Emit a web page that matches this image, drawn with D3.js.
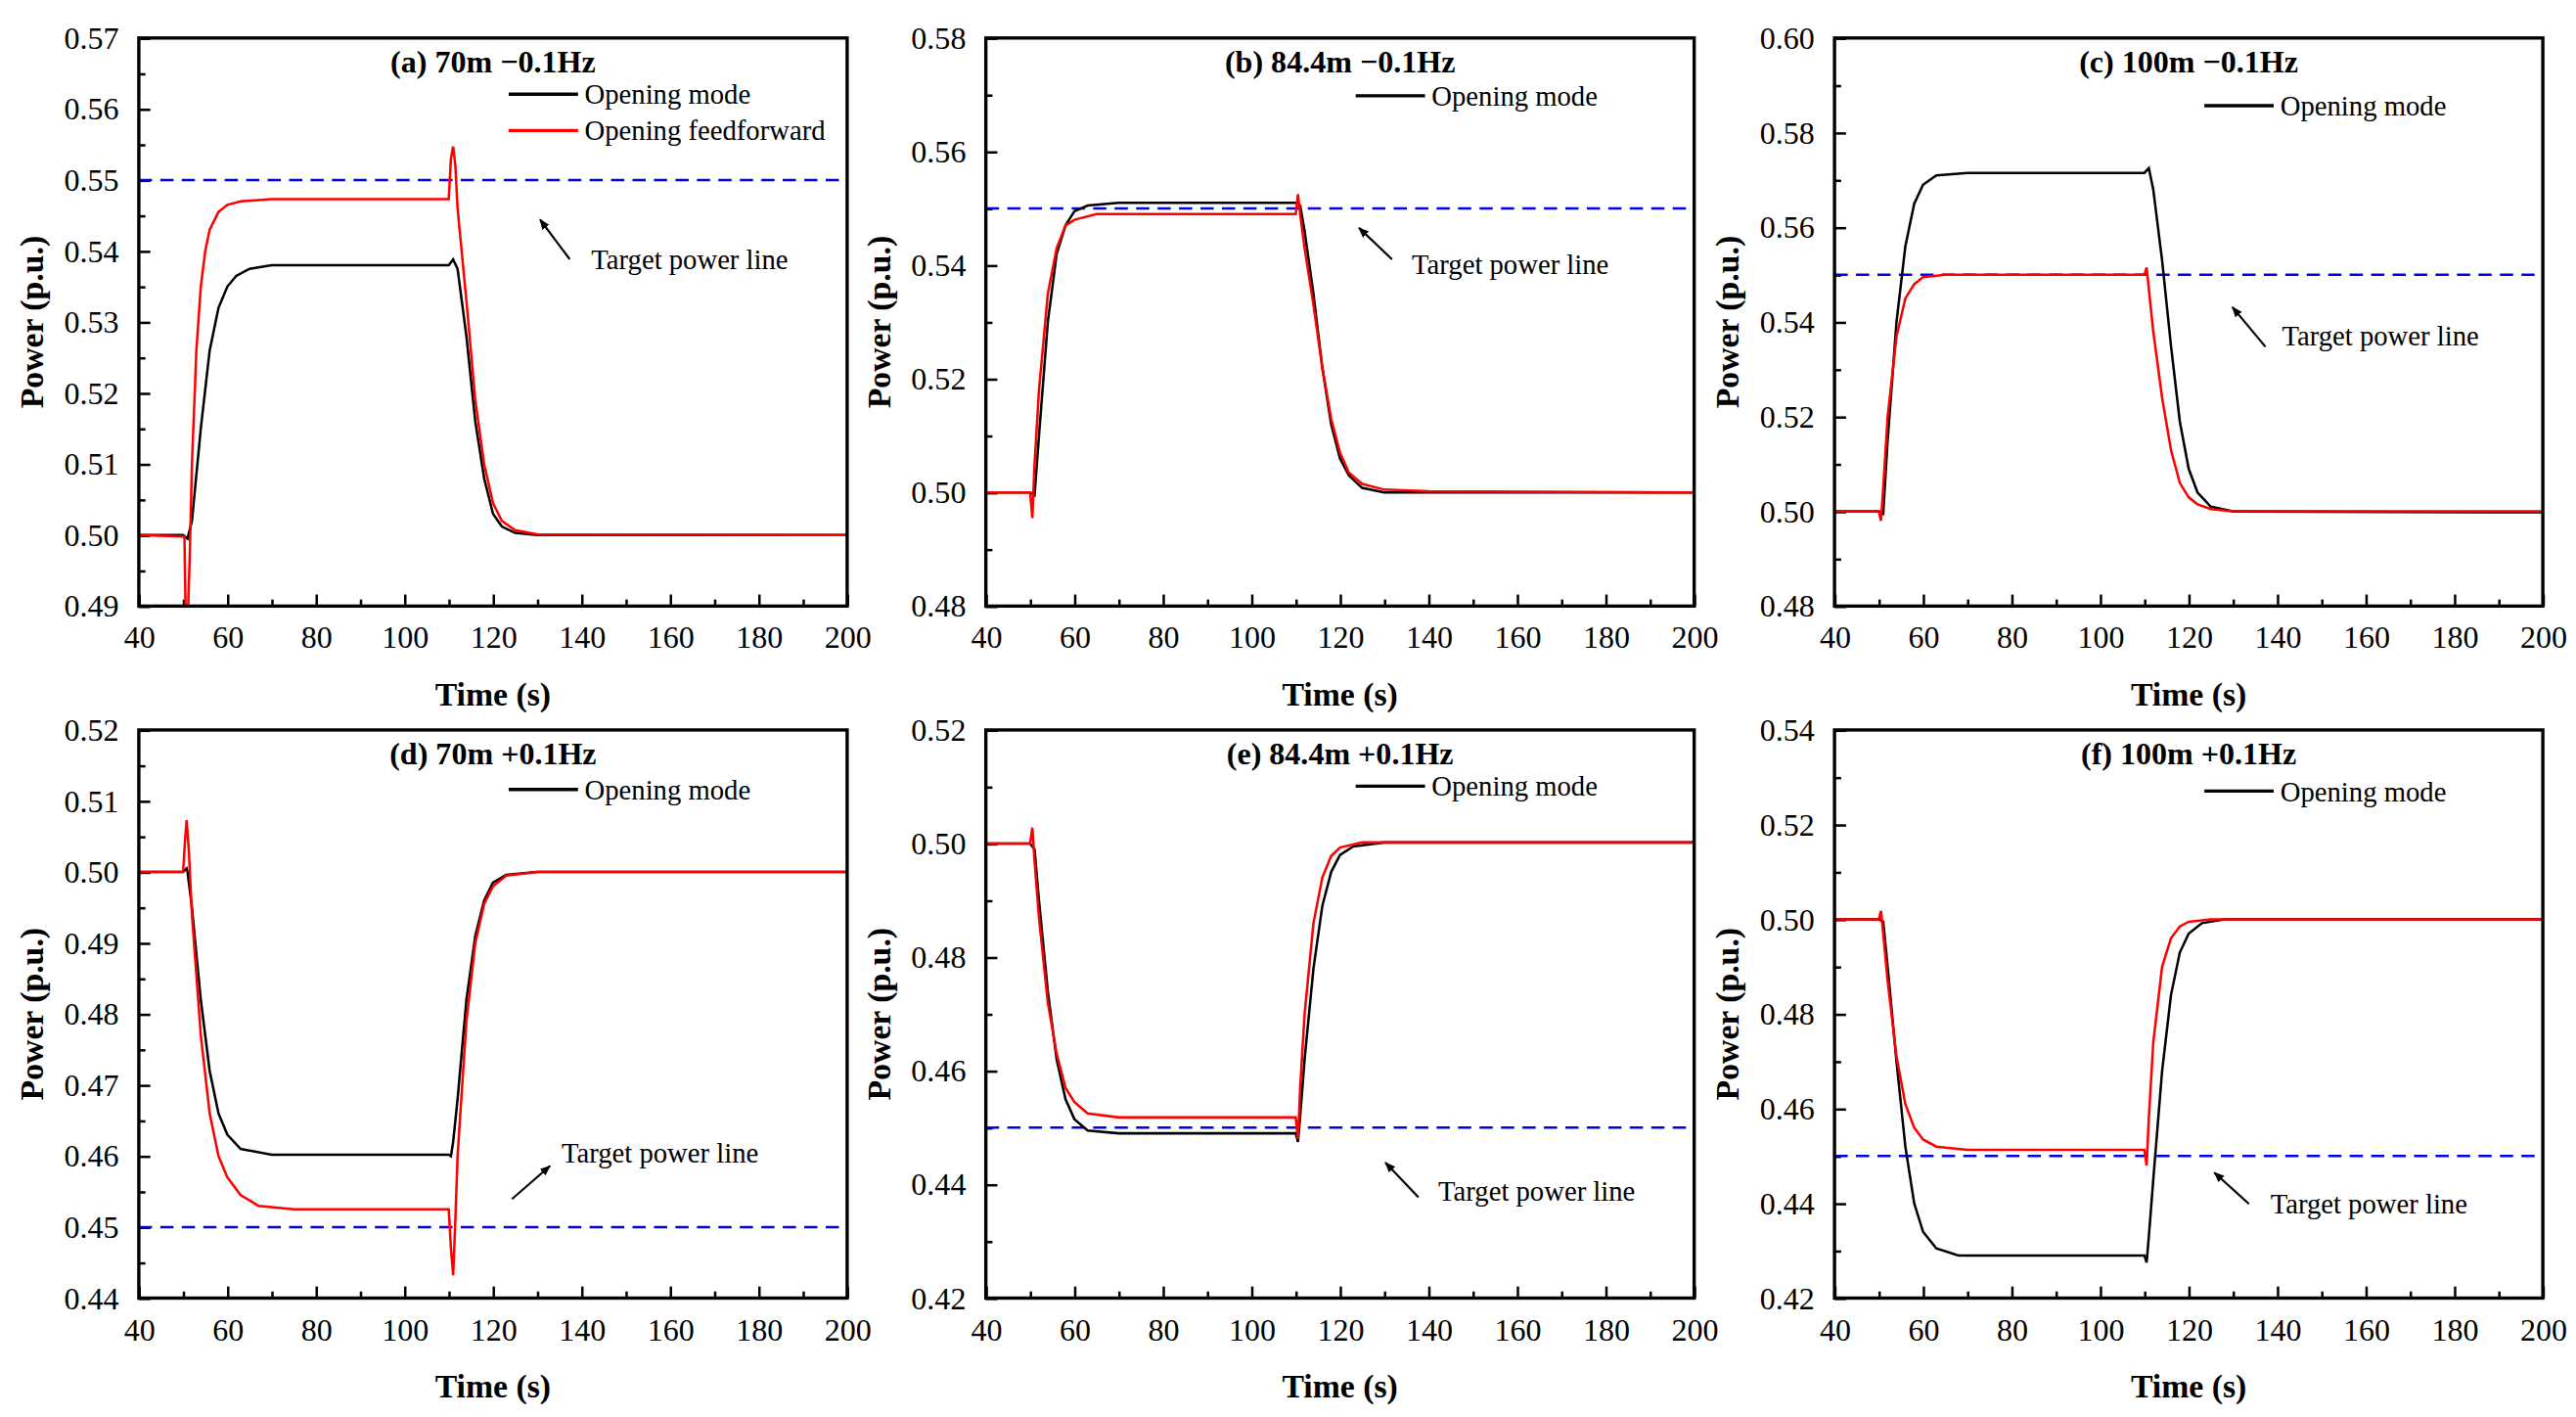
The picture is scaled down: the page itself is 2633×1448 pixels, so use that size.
<!DOCTYPE html><html><head><meta charset="utf-8">
<script src="https://cdn.jsdelivr.net/npm/d3@7"></script>
<style>body{margin:0;background:#fff}text{font-family:"Liberation Serif","Times New Roman",serif}</style>
</head><body><svg id="c" width="2633" height="1448" viewBox="0 0 1560 858"></svg>
<script>
const titles=["(a) 70m \u22120.1Hz","(b) 84.4m \u22120.1Hz","(c) 100m \u22120.1Hz","(d) 70m +0.1Hz","(e) 84.4m +0.1Hz","(f) 100m +0.1Hz"];
const yDomains=[[0.49,0.57],[0.48,0.58],[0.48,0.60],[0.44,0.52],[0.42,0.52],[0.42,0.54]];
const yStep=[0.01,0.02,0.02,0.01,0.02,0.02];
const xTicks=[40,60,80,100,120,140,160,180,200];
const targets=[0.55,0.55,0.55,0.45,0.45,0.45];
const modeA=[[40,.5],[50,.5],[51,.4995],[52,.502],[54,.515],[56,.526],[58,.532],[60,.535],[62,.5365],[65,.5375],[70,.538],[110,.538],[111,.5388],[112,.5375],[114,.528],[116,.516],[118,.508],[120,.503],[122,.5012],[125,.5003],[130,.5],[200,.5]];
const ffA=[[40,.5],[50,.4998],[50.3,.4998],[50.6,.488],[51,.487],[51.5,.497],[52,.51],[53,.526],[54,.535],[55,.54],[56,.543],[58,.5455],[60,.5465],[63,.547],[70,.5473],[110,.5473],[110.5,.553],[111,.5547],[111.5,.552],[112,.546],[114,.533],[116,.519],[118,.51],[120,.5045],[122,.502],[125,.5007],[130,.5001],[200,.5]];
const modeB=[[40,.5],[50,.5],[51,.4995],[52,.51],[54,.53],[56,.542],[58,.547],[60,.5495],[63,.5505],[70,.551],[110,.551],[111,.5505],[112,.546],[114,.535],[116,.522],[118,.512],[120,.506],[122,.503],[125,.5008],[130,.5],[200,.5]];
const ffB=[[40,.5],[50,.5],[50.5,.4955],[51,.505],[52,.518],[54,.535],[56,.543],[58,.547],[60,.548],[65,.549],[110,.549],[110.5,.5525],[111,.549],[112,.543],[114,.533],[116,.522],[118,.513],[120,.507],[122,.5035],[125,.5015],[130,.5005],[140,.5002],[200,.5]];
const modeC=[[40,.5],[50,.5],[51,.4995],[52,.515],[54,.54],[56,.556],[58,.565],[60,.569],[63,.571],[70,.5715],[110,.5715],[111,.5725],[112,.568],[114,.553],[116,.535],[118,.519],[120,.509],[122,.504],[125,.501],[130,.5],[200,.4998]];
const ffC=[[40,.5],[50,.5],[50.5,.498],[51,.505],[52,.52],[54,.537],[56,.545],[58,.548],[60,.5495],[65,.55],[110,.55],[110.5,.5515],[111,.547],[112,.538],[114,.524],[116,.513],[118,.506],[120,.503],[122,.5015],[125,.5005],[130,.5],[200,.5]];
const modeD=[[40,.5],[50,.5],[50.8,.5005],[51,.5],[52,.495],[54,.482],[56,.472],[58,.466],[60,.463],[63,.461],[70,.4602],[110,.4602],[110.5,.46],[111,.462],[112,.468],[114,.482],[116,.491],[118,.496],[120,.4985],[123,.4996],[130,.5],[200,.5]];
const ffD=[[40,.5],[50,.5],[50.5,.505],[50.8,.5073],[51.3,.503],[52,.494],[54,.477],[56,.466],[58,.46],[60,.457],[63,.4545],[67,.453],[75,.4525],[110,.4525],[110.5,.447],[111,.4432],[111.5,.451],[112,.46],[114,.479],[116,.49],[118,.4955],[120,.498],[123,.4995],[130,.5],[200,.5]];
const modeE=[[40,.5],[50,.5],[51,.499],[52,.49],[54,.474],[56,.462],[58,.455],[60,.4515],[63,.4495],[70,.449],[110,.449],[110.5,.4475],[111,.452],[112,.462],[114,.478],[116,.489],[118,.495],[120,.498],[123,.4995],[130,.5002],[200,.5002]];
const ffE=[[40,.5],[50,.5],[50.5,.5028],[51,.497],[52,.487],[54,.472],[56,.463],[58,.457],[60,.4545],[63,.4525],[70,.4518],[110,.4518],[110.5,.448],[111,.457],[112,.47],[114,.486],[116,.494],[118,.4978],[120,.4993],[125,.5002],[200,.5002]];
const modeF=[[40,.5],[50,.5],[51,.4995],[52,.49],[54,.47],[56,.452],[58,.44],[60,.434],[63,.4305],[68,.429],[110,.429],[110.5,.4275],[111,.433],[112,.445],[114,.468],[116,.484],[118,.493],[120,.497],[123,.4992],[128,.5],[200,.5]];
const ffF=[[40,.5],[50,.5],[50.5,.5018],[51,.497],[52,.487],[54,.471],[56,.461],[58,.456],[60,.4535],[63,.452],[70,.4513],[110,.4513],[110.5,.448],[111,.458],[112,.474],[114,.49],[116,.496],[118,.4985],[120,.4995],[125,.5],[200,.5]];
const modeSeries=[modeA,modeB,modeC,modeD,modeE,modeF];
const ffSeries=[ffA,ffB,ffC,ffD,ffE,ffF];
const legendLabels=["Opening mode","Opening feedforward"];
const annText="Target power line";

const svg=d3.select("#c");
const lefts=[84,597,1111], tops=[23,442], W=429, H=344;
const legY=[57,58,64,478,476,479];
// arrows: [tailx,taily,tipx,tipy,textx,texty] relative to panel left/top
const ann=[[261,134,243,110,274,140],[246,134,226,115,258,143],[261,187,241,163,271,186],[226,284,249,264,256,262],[262,283,242,262,274,285],[251,287,230,268,264,293]];
svg.append("defs").append("marker").attr("id","ah").attr("viewBox","0 0 10 10").attr("refX",9).attr("refY",5)
 .attr("markerWidth",5).attr("markerHeight",5).attr("orient","auto").append("path").attr("d","M0,1L10,5L0,9z").attr("fill","#000");
for(let i=0;i<6;i++){
 const L=lefts[i%3],T=tops[Math.floor(i/3)];
 const g=svg.append("g").attr("transform",`translate(${L},${T})`);
 const x=d3.scaleLinear().domain([40,200]).range([0,W]);
 const y=d3.scaleLinear().domain(yDomains[i]).range([H,0]);
 const cid="clip"+i;
 g.append("clipPath").attr("id",cid).append("rect").attr("width",W).attr("height",H);
 const [y0,y1]=yDomains[i],st=yStep[i];
 const yt=d3.range(Math.round((y1-y0)/st)+1).map(k=>+(y0+k*st).toFixed(3));
 const ym=d3.range(Math.round((y1-y0)/st)).map(k=>y0+(k+0.5)*st);
 const xm=d3.range(8).map(k=>50+20*k);
 // ticks
 g.append("g").attr("transform",`translate(0,${H})`).call(d3.axisBottom(x).tickValues(xTicks).tickSize(-7).tickPadding(12).tickFormat(d3.format("d")))
  .call(a=>{a.select(".domain").remove();a.selectAll("line").attr("stroke-width",1.5);a.selectAll("text").attr("font-size",19);});
 g.append("g").attr("transform",`translate(0,${H})`).call(d3.axisBottom(x).tickValues(xm).tickSize(-4).tickFormat(""))
  .call(a=>{a.select(".domain").remove();a.selectAll("line").attr("stroke-width",1.5);});
 g.append("g").call(d3.axisLeft(y).tickValues(yt).tickSize(-7).tickPadding(12).tickFormat(d3.format(".2f")))
  .call(a=>{a.select(".domain").remove();a.selectAll("line").attr("stroke-width",1.5);a.selectAll("text").attr("font-size",19);});
 g.append("g").call(d3.axisLeft(y).tickValues(ym).tickSize(-4).tickFormat(""))
  .call(a=>{a.select(".domain").remove();a.selectAll("line").attr("stroke-width",1.5);});
 g.append("line").attr("x1",0).attr("x2",W).attr("y1",y(targets[i])).attr("y2",y(targets[i])).attr("stroke","#0000ee").attr("stroke-width",1.5).attr("stroke-dasharray","8,5");
 const line=d3.line().x(d=>x(d[0])).y(d=>y(d[1]));
 g.append("path").datum(modeSeries[i]).attr("d",line).attr("fill","none").attr("stroke","#000").attr("stroke-width",1.5).attr("clip-path",`url(#${cid})`);
 g.append("path").datum(ffSeries[i]).attr("d",line).attr("fill","none").attr("stroke","#ff0000").attr("stroke-width",1.5).attr("clip-path",`url(#${cid})`);
 g.append("rect").attr("width",W).attr("height",H).attr("fill","none").attr("stroke","#000").attr("stroke-width",2);
 g.append("text").attr("x",W/2).attr("y",21).attr("text-anchor","middle").attr("font-size",19).attr("font-weight","bold").text(titles[i]);
 const ly=legY[i]-T;
 g.append("line").attr("x1",224).attr("x2",266).attr("y1",ly).attr("y2",ly).attr("stroke","#000").attr("stroke-width",2);
 g.append("text").attr("x",270).attr("y",ly+6).attr("font-size",17).text(legendLabels[0]);
 if(i===0){
  g.append("line").attr("x1",224).attr("x2",266).attr("y1",ly+22).attr("y2",ly+22).attr("stroke","#ff0000").attr("stroke-width",2);
  g.append("text").attr("x",270).attr("y",ly+28).attr("font-size",17).text(legendLabels[1]);
 }
 const a=ann[i];
 g.append("line").attr("x1",a[0]).attr("y1",a[1]).attr("x2",a[2]).attr("y2",a[3]).attr("stroke","#000").attr("stroke-width",1.3).attr("marker-end","url(#ah)");
 g.append("text").attr("x",a[4]).attr("y",a[5]).attr("font-size",17).text(annText);
 g.append("text").attr("x",W/2).attr("y",H+60).attr("text-anchor","middle").attr("font-size",20).attr("font-weight","bold").text("Time (s)");
 g.append("text").attr("transform",`translate(${-58},${H/2}) rotate(-90)`).attr("text-anchor","middle").attr("font-size",20).attr("font-weight","bold").text("Power (p.u.)");
}
</script></body></html>
